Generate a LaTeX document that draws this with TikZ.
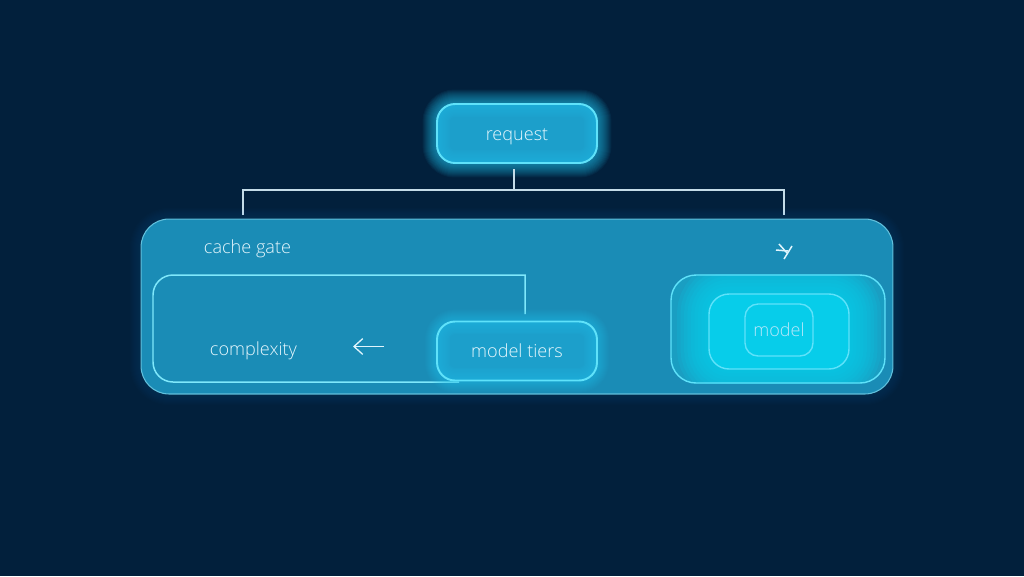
\documentclass[tikz,border=0pt]{standalone}
\usepackage{fontspec}
\setmainfont{Open Sans}[UprightFont=* Light]
\usetikzlibrary{arrows.meta}
\definecolor{pagebg}{HTML}{02203C}
\definecolor{panelfill}{HTML}{1A8CB6}
\definecolor{panelline}{HTML}{62C0DC}
\definecolor{neon}{HTML}{5FE2FA}
\definecolor{halocol}{HTML}{25C4F0}
\definecolor{neonfill}{HTML}{1C9FCB}
\definecolor{tealfill}{HTML}{1A9EC2}
\definecolor{tealcore}{HTML}{07CDEA}
\definecolor{wirecol}{HTML}{C4DCE8}
\tikzset{
  boxtext/.style={text=white!90!cyan,font=\fontsize{10.3}{12}\selectfont,text height=0.97em,text depth=0.2em},
  panelbox/.style={draw=panelline,fill=panelfill,line width=0.6pt,rounded corners=0.56cm,minimum width=15.04cm,minimum height=3.5cm},
  glowbox/.style={draw=neon,line width=1.1pt,rounded corners=0.36cm,minimum width=3.2cm,minimum height=1.18cm,boxtext},
  emptybox/.style={rounded corners=0.36cm,minimum width=3.2cm,minimum height=1.18cm},
  tealbox/.style={draw=neon,line width=0.8pt,boxtext},
  wire/.style={draw=wirecol,line width=0.65pt},
  looppath/.style={draw=neon!80!white,line width=0.85pt},
  flowarrow/.style={draw=white!88!cyan,line width=0.75pt,-{Straight Barb[length=5pt,width=9pt]}},
  markline/.style={draw=white!88!cyan,line width=0.85pt}
}
% stacked strokes round a node: node, corner radius, opacity, colour, step, layers
\newcommand{\halo}[6]{%
  \foreach \g in {1,...,#6}
    \draw [#4,opacity=#3,line width=\g*#5,rounded corners=#2] (#1.south west) rectangle (#1.north east);
}
% the same strokes, kept inside the node
\newcommand{\innerhalo}[6]{%
  \begin{scope}
    \clip [rounded corners=#2] (#1.south west) rectangle (#1.north east);
    \halo{#1}{#2}{#3}{#4}{#5}{#6}
  \end{scope}
}
\begin{document}
\begin{tikzpicture}[x=0.02cm,y=0.02cm]
\fill [pagebg] (0,0) rectangle (1024,-576);
\useasboundingbox (0,0) rectangle (1024,-576);
% request box and the bus under it
\node [emptybox,fill=neonfill] (request) at (517,-133.5) {};
\halo{request}{0.36cm}{0.06}{halocol}{1.15pt}{14}
\coordinate (busmid) at (514,-190);
\coordinate (busleft) at (243,-190);
\coordinate (busright) at (784,-190);
\coordinate (dropleft) at (243,-215);
\coordinate (dropright) at (784,-215);
\draw [wire,shorten <=3.4pt] (request.south -| busmid) -- (busmid);
\draw [wire] (dropleft) -- (busleft) -- (busright) -- (dropright);
\fill [neonfill,rounded corners=0.36cm] (request.south west) rectangle (request.north east);
\innerhalo{request}{0.36cm}{0.06}{halocol}{1.5pt}{10}
\node [glowbox] at (request) {request};
% cache gate panel
\node [panelbox,draw=none] (gate) at (517,-306.5) {};
\halo{gate}{0.56cm}{0.012}{halocol}{1.2pt}{10}
\node [panelbox] at (gate) {};
\node [boxtext] (gatelabel) at (247.5,-247) {cache gate};
\coordinate (loopa) at (525,-314);
\coordinate (loopb) at (525,-275);
\coordinate (loopc) at (153,-275);
\coordinate (loopd) at (153,-382);
\coordinate (loope) at (459,-382);
\draw [looppath] (loopa) -- (loopb) -- ++(-300,0) [rounded corners=0.4cm] -- (loopc) -- (loopd) -- (loope);
\node [boxtext] (complexity) at (253.5,-349) {complexity};
% model tiers
\node [emptybox,fill=neonfill] (tiers) at (517,-351) {};
\halo{tiers}{0.36cm}{0.05}{halocol}{1.1pt}{12}
\fill [neonfill,rounded corners=0.36cm] (tiers.south west) rectangle (tiers.north east);
\innerhalo{tiers}{0.36cm}{0.06}{halocol}{1.5pt}{10}
\node [glowbox] at (tiers) {model tiers};
\coordinate (backtail) at (384,-346.5);
\coordinate (backhead) at (353,-346.5);
\draw [flowarrow] (backtail) -- (backhead);
% small mark over the tier box
\coordinate (marka) at (776,-250);
\coordinate (markb) at (788,-251);
\coordinate (markc) at (779,-244);
\coordinate (markd) at (787,-253);
\coordinate (marke) at (784,-259);
\coordinate (markf) at (792,-246);
\draw [markline] (marka) -- (markb);
\draw [markline] (markc) -- (markd);
\draw [markline] (marke) -- (markf);
% nested boxes
\node [tealbox,fill=tealfill,draw=none,rounded corners=0.5cm,minimum width=4.28cm,minimum height=2.16cm] (tierbox) at (778,-329) {};
\node [rounded corners=0.4cm,minimum width=2.8cm,minimum height=1.5cm] (midbox) at (779,-331.5) {};
\begin{scope}
\clip [rounded corners=0.5cm] (tierbox.south west) rectangle (tierbox.north east);
\halo{midbox}{0.4cm}{0.16}{tealcore}{4pt}{9}
\end{scope}
\node [tealbox,rounded corners=0.5cm,minimum width=4.28cm,minimum height=2.16cm] at (tierbox) {};
\node [tealbox,fill=tealcore,rounded corners=0.4cm,minimum width=2.8cm,minimum height=1.5cm] at (midbox) {};
\node [tealbox,fill=tealcore,rounded corners=0.26cm,minimum width=1.36cm,minimum height=1.04cm,text=white!72!cyan] (model) at (779,-330) {model};
\end{tikzpicture}
\end{document}
